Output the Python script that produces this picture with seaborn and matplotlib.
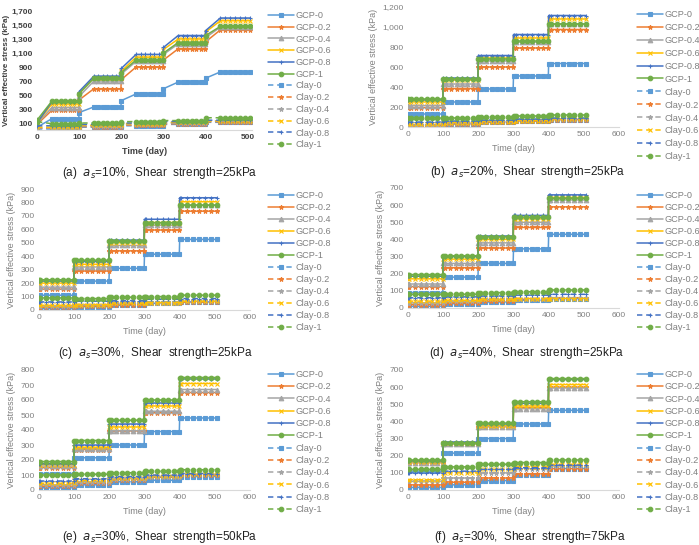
import numpy as np
import pandas as pd
import matplotlib
matplotlib.use("Agg")
import matplotlib.pyplot as plt
from matplotlib.ticker import FuncFormatter
import seaborn as sns

sns.set_style("white")
plt.rcParams['font.family'] = ['Liberation Sans', 'DejaVu Sans']

# ------------------ DATA ------------------
SERIES = ["GCP-0", "GCP-0.2", "GCP-0.4", "GCP-0.6", "GCP-0.8", "GCP-1",
          "Clay-0", "Clay-0.2", "Clay-0.4", "Clay-0.6", "Clay-0.8", "Clay-1"]
STAGE_START = [0, 100, 200, 300, 400]   # load steps (day)
LAST_DAY = 505

# plateau stress (kPa) reached in each load stage, per series
a_end = {
    "GCP-0": [160, 330, 515, 685, 830], "GCP-0.2": [280, 590, 900, 1160, 1430],
    "GCP-0.4": [320, 700, 980, 1230, 1470], "GCP-0.6": [370, 750, 1040, 1300, 1560],
    "GCP-0.8": [400, 770, 1080, 1350, 1600], "GCP-1": [410, 740, 1000, 1250, 1480],
    "Clay-0": [15, 40, 60, 80, 110], "Clay-0.2": [25, 50, 70, 90, 120],
    "Clay-0.4": [30, 60, 80, 100, 130], "Clay-0.6": [40, 70, 90, 110, 130],
    "Clay-0.8": [60, 80, 100, 120, 140], "Clay-1": [90, 100, 120, 135, 175],
}
# stress right after each load step in (a) (slow consolidation)
a_start = {
    "GCP-0": [40, 250, 420, 590, 740], "GCP-0.2": [80, 430, 720, 1000, 1260],
    "GCP-0.4": [90, 480, 800, 1080, 1320], "GCP-0.6": [100, 520, 840, 1150, 1400],
    "GCP-0.8": [100, 550, 880, 1180, 1420], "GCP-1": [140, 520, 820, 1100, 1350],
    "Clay-0": [15, 40, 60, 80, 110], "Clay-0.2": [25, 50, 70, 90, 120],
    "Clay-0.4": [30, 60, 80, 100, 130], "Clay-0.6": [40, 70, 90, 110, 130],
    "Clay-0.8": [60, 80, 100, 120, 140], "Clay-1": [120, 100, 120, 135, 175],
}
b_end = {
    "GCP-0": [130, 250, 380, 510, 635], "GCP-0.2": [195, 385, 600, 790, 975],
    "GCP-0.4": [215, 430, 660, 850, 1030], "GCP-0.6": [250, 470, 690, 890, 1080],
    "GCP-0.8": [270, 490, 715, 925, 1115], "GCP-1": [280, 480, 680, 860, 1030],
    "Clay-0": [10, 30, 50, 65, 75], "Clay-0.2": [15, 35, 50, 60, 75],
    "Clay-0.4": [25, 45, 60, 70, 80], "Clay-0.6": [30, 45, 55, 65, 80],
    "Clay-0.8": [50, 60, 70, 80, 90], "Clay-1": [90, 90, 100, 110, 120],
}
c_end = {
    "GCP-0": [110, 215, 310, 415, 525], "GCP-0.2": [155, 290, 440, 595, 735],
    "GCP-0.4": [170, 320, 480, 630, 780], "GCP-0.6": [200, 340, 500, 650, 805],
    "GCP-0.8": [215, 360, 520, 675, 835], "GCP-1": [225, 370, 510, 650, 780],
    "Clay-0": [10, 25, 35, 50, 60], "Clay-0.2": [20, 30, 40, 50, 60],
    "Clay-0.4": [30, 40, 50, 55, 65], "Clay-0.6": [35, 40, 50, 55, 65],
    "Clay-0.8": [60, 65, 70, 80, 85], "Clay-1": [90, 85, 95, 100, 110],
}
d_end = {
    "GCP-0": [90, 180, 260, 345, 430], "GCP-0.2": [125, 235, 350, 470, 590],
    "GCP-0.4": [140, 260, 380, 500, 630], "GCP-0.6": [170, 285, 400, 520, 645],
    "GCP-0.8": [185, 300, 420, 540, 660], "GCP-1": [195, 305, 415, 530, 640],
    "Clay-0": [10, 25, 35, 45, 55], "Clay-0.2": [20, 30, 40, 50, 60],
    "Clay-0.4": [30, 40, 50, 55, 60], "Clay-0.6": [40, 45, 50, 55, 55],
    "Clay-0.8": [60, 65, 70, 75, 80], "Clay-1": [80, 80, 90, 95, 105],
}
e_end = {
    "GCP-0": [110, 215, 300, 390, 480], "GCP-0.2": [150, 270, 395, 515, 650],
    "GCP-0.4": [160, 275, 395, 525, 670], "GCP-0.6": [170, 285, 420, 560, 710],
    "GCP-0.8": [175, 300, 440, 580, 740], "GCP-1": [190, 330, 465, 600, 750],
    "Clay-0": [15, 35, 55, 65, 90], "Clay-0.2": [25, 45, 70, 85, 100],
    "Clay-0.4": [35, 55, 75, 90, 105], "Clay-0.6": [45, 65, 80, 95, 105],
    "Clay-0.8": [60, 75, 90, 100, 110], "Clay-1": [100, 105, 115, 125, 135],
}
f_end = {
    "GCP-0": [110, 215, 300, 385, 465], "GCP-0.2": [160, 270, 370, 480, 600],
    "GCP-0.4": [160, 270, 370, 475, 595], "GCP-0.6": [165, 275, 375, 490, 615],
    "GCP-0.8": [170, 280, 385, 505, 645], "GCP-1": [175, 275, 390, 515, 650],
    "Clay-0": [15, 30, 55, 90, 125], "Clay-0.2": [30, 45, 70, 95, 125],
    "Clay-0.4": [50, 70, 100, 125, 140], "Clay-0.6": [60, 100, 120, 135, 150],
    "Clay-0.8": [100, 110, 120, 130, 145], "Clay-1": [120, 135, 150, 160, 175],
}

CAPTIONS = [r"(a)  $a_s$=10%,  Shear  strength=25kPa",
            r"(b)  $a_s$=20%,  Shear  strength=25kPa",
            r"(c)  $a_s$=30%,  Shear  strength=25kPa",
            r"(d)  $a_s$=40%,  Shear  strength=25kPa",
            r"(e)  $a_s$=30%,  Shear  strength=50kPa",
            r"(f)  $a_s$=30%,  Shear  strength=75kPa"]
Y_MAX = [1700, 1200, 900, 700, 800, 700]

# ------------------ STYLE ------------------
base = ["#5B9BD5", "#ED7D31", "#A5A5A5", "#FFC000", "#4472C4", "#70AD47"]
gcp_mk = ["s", "*", "^", "x", "+", "o"]
clay_mk = ["s", "*", "*", "x", "+", "o"]


def build(end, start=None, rise=4):
    rows = []
    for s in SERIES:
        for k, t0 in enumerate(STAGE_START):
            t_end = t0 + 99 if k < 4 else LAST_DAY
            v0 = start[s][k] if start else end[s][k]
            v1 = end[s][k]
            times = [t0, t0 + rise] + list(np.linspace(t0 + rise, t_end, 7)[1:])
            vals = [v0] + [v1] * (len(times) - 1)
            for t, v in zip(times, vals):
                rows.append({"Time": t, "Stress": v, "Series": s})
    return pd.DataFrame(rows)


panels = [build(a_end, a_start, rise=35), build(b_end, rise=8), build(c_end),
          build(d_end), build(e_end), build(f_end)]

# axes boxes in pixels: left, top, right, bottom
W, H = 699, 545
boxes = [(37, 11, 252, 130), (408, 7, 619, 127),
         (39, 189, 250, 310), (408, 188, 619, 308),
         (39, 370, 250, 490), (408, 370, 619, 490)]
cap_xy = [(160, 173), (528, 172), (155, 353), (527, 353), (160, 537), (530, 537)]
# legend: left x, top y (px), label spacing
leg_pos = [(268, 11, 0.30), (637, 10, 0.43), (268, 191, 0.33),
           (637, 191, 0.33), (268, 370, 0.36), (637, 370, 0.36)]

fig = plt.figure(figsize=(W / 100, H / 100), dpi=100)
for i, df in enumerate(panels):
    l, t, r, b = boxes[i]
    ax = fig.add_axes([l / W, 1 - b / H, (r - l) / W, (b - t) / H])
    for j, s in enumerate(SERIES):
        sub = df[df["Series"] == s]
        clay = j >= 6
        sns.lineplot(data=sub, x="Time", y="Stress", color=base[j % 6],
                     marker=(clay_mk if clay else gcp_mk)[j % 6],
                     linestyle=(0, (3.5, 2.5)) if clay else "-",
                     estimator=None, sort=False, linewidth=1.1, markersize=3.3,
                     markeredgewidth=0.8, markeredgecolor=base[j % 6],
                     label=s, ax=ax)
    bold = (i == 0)
    tcol = "#404040" if bold else "#808080"
    if i == 0:
        ax.set_xlim(0, 510)
        ax.set_xticks(range(0, 501, 100))
        ax.set_ylim(0, 1700)
        ax.set_yticks(range(100, 1701, 200))
    else:
        ax.set_xlim(0, 600)
        ax.set_xticks(range(0, 601, 100))
        ax.set_ylim(0, Y_MAX[i])
        ax.set_yticks(range(0, Y_MAX[i] + 1, 200 if Y_MAX[i] > 900 else 100))
    ax.yaxis.set_major_formatter(FuncFormatter(lambda v, p: f"{v:,.0f}"))
    ax.tick_params(length=0, labelsize=6, colors=tcol, pad=3)
    for lab in ax.get_xticklabels() + ax.get_yticklabels():
        lab.set_fontweight("bold" if bold else "normal")
    ax.set_xlabel("Time (day)", fontsize=6.5, color=tcol,
                  fontweight="bold" if bold else "normal", labelpad=4)
    ax.set_ylabel("Vertical effective stress (kPa)",
                  fontsize=5.8 if bold else 6.5, color=tcol,
                  fontweight="bold" if bold else "normal",
                  labelpad=1 if bold else 3)
    for sp in ["top", "right", "left"]:
        ax.spines[sp].set_visible(False)
    ax.spines["bottom"].set_color("#D9D9D9")
    ax.spines["bottom"].set_linewidth(0.8)

    handles, labels = ax.get_legend_handles_labels()
    lx, ly, lsp = leg_pos[i]
    ax.legend(handles, labels, loc="upper left",
              bbox_to_anchor=(lx / W, 1 - ly / H),
              bbox_transform=fig.transFigure, frameon=False, fontsize=6.6,
              handlelength=2.8, handletextpad=0.2, labelspacing=lsp,
              borderaxespad=0, borderpad=0, labelcolor="#808080")

    cx, cy = cap_xy[i]
    fig.text(cx / W, 1 - cy / H, CAPTIONS[i], ha="center", va="center",
             fontsize=8.5, color="#222222")

fig.savefig("out.png", dpi=100)
